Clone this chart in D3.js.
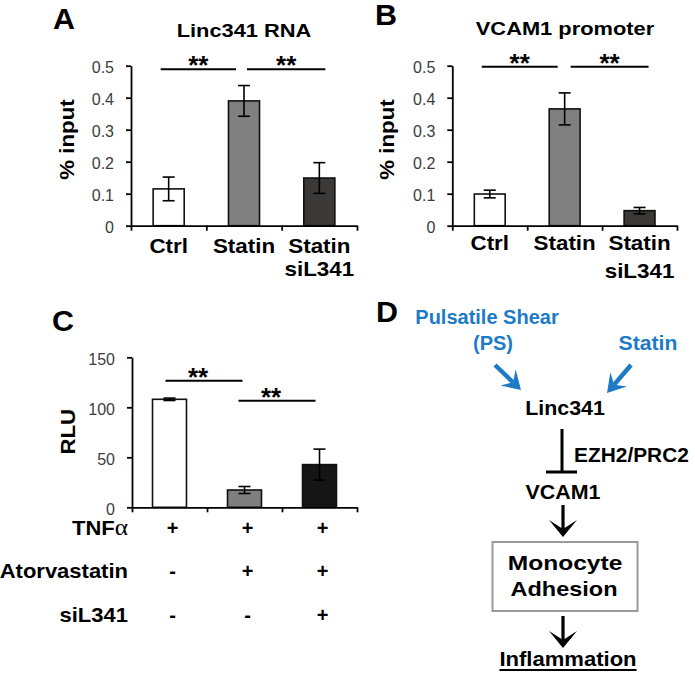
<!DOCTYPE html>
<html><head><meta charset="utf-8">
<script src="https://cdn.jsdelivr.net/npm/d3@7"></script>
<style>body{margin:0;background:#fff} svg{display:block}</style>
</head><body>
<svg id="fig" width="695" height="679"></svg>
<script>
// ---------------- data ----------------
const categoriesAB = [["Ctrl"], ["Statin"], ["Statin", "siL341"]];
const linc341Values = [0.115, 0.39, 0.149];
const linc341Errors = [0.037, 0.048, 0.048];
const vcam1Values = [0.099, 0.365, 0.047];
const vcam1Errors = [0.012, 0.05, 0.01];
const rluValues = [108, 17.3, 42.7];
const rluErrors = [1.2, 3.5, 15.5];
const tickValuesAB = [0, 0.1, 0.2, 0.3, 0.4, 0.5];
const tickLabelsAB = ["0", "0.1", "0.2", "0.3", "0.4", "0.5"];
const tickValuesC = [0, 50, 100, 150];
const tickLabelsC = ["0", "50", "100", "150"];
const treatmentRows = ["TNF", "Atorvastatin", "siL341"];
const treatmentMarks = [["+", "+", "+"], ["-", "+", "+"], ["-", "-", "+"]];
const sigPairsA = [[0, 1, 0.489], [1, 2, 0.489]];
const sigPairsB = [[0, 1, 0.497], [1, 2, 0.497]];
const sigPairsC = [[0, 1, 126.6], [1, 2, 106.6]];
const colorsAB = ["#ffffff", "#808080", "#3b3838"];
const colorsC = ["#ffffff", "#7f7f7f", "#151515"];

// ---------------- helpers ----------------
const svg = d3.select("#fig");
const BOLD = "'Liberation Sans', Arial, sans-serif";

function txt(g, str, x, y, o = {}) {
  const t = g.append("text")
    .attr("transform", `translate(${x},${y})` + (o.rot ? ` rotate(${o.rot})` : "") + ` scale(${o.sx || 1},1)`)
    .attr("text-anchor", o.anchor || "middle")
    .attr("font-family", o.family || BOLD)
    .attr("font-weight", o.weight || "bold")
    .attr("font-size", (o.size || 20) + "px")
    .attr("fill", o.fill || "#000")
    .text(str);
  return t;
}

function barPanel(cfg) {
  const g = svg.append("g");
  const n = cfg.values.length;
  const y = d3.scaleLinear().domain(cfg.domain).range([cfg.yBottom, cfg.yTop]);
  const xPos = d3.scaleLinear().domain([0, n]).range([cfg.xLeft, cfg.xRight]);
  const xb = d3.scaleBand().domain(d3.range(n)).range([cfg.xLeft, cfg.xRight])
    .paddingInner(cfg.pad).paddingOuter(cfg.pad / 2);
  const cx = i => xb(i) + xb.bandwidth() / 2;

  g.selectAll("rect.bar").data(cfg.values).join("rect").attr("class", "bar")
    .attr("x", (d, i) => xb(i)).attr("width", xb.bandwidth())
    .attr("y", d => y(d)).attr("height", d => y(0) - y(d))
    .attr("fill", (d, i) => cfg.colors[i]).attr("stroke", "#111").attr("stroke-width", 1.6);

  // error bars
  const eb = g.selectAll("g.err").data(cfg.values).join("g").attr("class", "err")
    .attr("stroke", "#000").attr("stroke-width", 1.6);
  eb.append("line").attr("x1", (d, i) => cx(i)).attr("x2", (d, i) => cx(i))
    .attr("y1", (d, i) => y(d + cfg.errors[i])).attr("y2", (d, i) => y(d - cfg.errors[i]));
  eb.append("line").attr("x1", (d, i) => cx(i) - 6).attr("x2", (d, i) => cx(i) + 6)
    .attr("y1", (d, i) => y(d + cfg.errors[i])).attr("y2", (d, i) => y(d + cfg.errors[i]));
  eb.append("line").attr("x1", (d, i) => cx(i) - 6).attr("x2", (d, i) => cx(i) + 6)
    .attr("y1", (d, i) => y(d - cfg.errors[i])).attr("y2", (d, i) => y(d - cfg.errors[i]));

  // axes
  const ya = d3.axisLeft(y).tickValues(cfg.ticks).tickFormat((d, i) => cfg.tickLabels[i])
    .tickSize(5).tickSizeOuter(0).tickPadding(12);
  const yg = g.append("g").attr("transform", `translate(${cfg.xLeft},0)`).call(ya);
  yg.selectAll("text").attr("font-family", "'Liberation Sans', Arial, sans-serif")
    .attr("font-size", "16px").attr("fill", "#3c3c3c").attr("dy", "0.45em");
  const xa = d3.axisBottom(xPos).tickValues(d3.range(n + 1)).tickSize(5).tickSizeOuter(0).tickFormat("");
  g.append("g").attr("transform", `translate(0,${cfg.yBottom})`).call(xa);
  g.selectAll(".domain, .tick line").attr("stroke", "#000").attr("stroke-width", 1.8);

  // significance brackets
  cfg.sig.forEach(([a, b, v], k) => {
    const x1 = cx(a) + cfg.sigOff[k][0], x2 = cx(b) + cfg.sigOff[k][1];
    g.append("line").attr("x1", x1).attr("x2", x2).attr("y1", y(v)).attr("y2", y(v))
      .attr("stroke", "#000").attr("stroke-width", 2);
    txt(g, "**", (x1 + x2) / 2 + (cfg.starDx || 0), y(v) + 5, { size: 26 });
  });

  // category labels
  if (cfg.cats) {
    cfg.cats.forEach((lines, i) => {
      lines.forEach((s, j) => txt(g, s, cx(i), cfg.labelY[j], { size: 20, sx: 1.12 }));
    });
  }
  // y label
  txt(g, cfg.ylabel, cfg.ylabelX, cfg.ylabelY, { size: 21, rot: -90, sx: 1.06 });
  // title
  if (cfg.title) txt(g, cfg.title, cfg.titleX, cfg.titleY, { size: 19, sx: 1.15 });
  return { g, cx };
}

// ---------------- panel A ----------------
barPanel({
  values: linc341Values, errors: linc341Errors, colors: colorsAB,
  domain: [0, 0.5], ticks: tickValuesAB, tickLabels: tickLabelsAB,
  xLeft: 131, xRight: 357, yBottom: 225.7, yTop: 65.7, pad: 0.588,
  sig: sigPairsA, sigOff: [[-8, -8], [3, 6]],
  cats: categoriesAB, labelY: [253, 276],
  ylabel: "% input", ylabelX: 74, ylabelY: 139.5,
  title: "Linc341 RNA", titleX: 244, titleY: 37
});
txt(svg, "A", 53, 29, { size: 29, anchor: "start", sx: 1.05 });

// ---------------- panel B ----------------
barPanel({
  values: vcam1Values, errors: vcam1Errors, colors: colorsAB,
  domain: [0, 0.5], ticks: tickValuesAB, tickLabels: tickLabelsAB,
  xLeft: 452.3, xRight: 677, yBottom: 225.7, yTop: 65.7, pad: 0.588,
  sig: sigPairsB, sigOff: [[-8, -7], [6, 9]],
  cats: categoriesAB, labelY: [250, 278],
  ylabel: "% input", ylabelX: 394, ylabelY: 139.5,
  title: "VCAM1 promoter", titleX: 565, titleY: 35
});
txt(svg, "B", 375, 25, { size: 29, anchor: "start", sx: 1.05 });

// ---------------- panel C ----------------
const pc = barPanel({
  values: rluValues, errors: rluErrors, colors: colorsC,
  domain: [0, 150], ticks: tickValuesC, tickLabels: tickLabelsC,
  xLeft: 132, xRight: 357, yBottom: 507.3, yTop: 357.3, pad: 0.547,
  sig: sigPairsC, sigOff: [[-4, -2], [-6, -4]], starDx: -6,
  cats: null,
  ylabel: "RLU", ylabelX: 75, ylabelY: 431.7
});
txt(svg, "C", 52, 331, { size: 29, anchor: "start", sx: 1.05 });
const rowY = [535, 578, 621.5];
treatmentRows.forEach((r, k) => {
  const t = txt(svg, r, 128, rowY[k], { size: 20, anchor: "end", sx: 1.1 });
  if (k === 0) t.append("tspan").attr("font-family", "'Liberation Serif', serif")
    .attr("font-weight", "normal").attr("font-size", "23px").text("α");
  treatmentMarks[k].forEach((m, i) => txt(svg, m, pc.cx(i) + 3, rowY[k], { size: 20 }));
});

// ---------------- panel D ----------------
txt(svg, "D", 376, 322, { size: 29, anchor: "start", sx: 1.05 });
const blue = "#1d7bc6";
const gd = svg.append("g");
txt(gd, "Pulsatile Shear", 487, 324, { size: 20, fill: blue });
txt(gd, "(PS)", 493, 350, { size: 20, fill: blue });
txt(gd, "Statin", 648, 350, { size: 20, fill: blue, sx: 1.06 });
txt(gd, "Linc341", 565, 415, { size: 20, sx: 1.07 });
txt(gd, "EZH2/PRC2", 574, 462, { size: 20, anchor: "start", sx: 1.045 });
txt(gd, "VCAM1", 563, 499, { size: 20, sx: 1.07 });
txt(gd, "Monocyte", 565, 570, { size: 21, sx: 1.17 });
txt(gd, "Adhesion", 564, 596, { size: 21, sx: 1.12 });
const infl = txt(gd, "Inflammation", 568, 666, { size: 21, sx: 1.05 });
const inflW = infl.node().getComputedTextLength() * 1.05;
gd.append("line").attr("x1", 568 - inflW / 2).attr("x2", 568 + inflW / 2)
  .attr("y1", 670).attr("y2", 670).attr("stroke", "#000").attr("stroke-width", 2);

function arrow(g, x1, y1, x2, y2, color, w, hl, hw, notch) {
  const dx = x2 - x1, dy = y2 - y1, L = Math.hypot(dx, dy);
  const ux = dx / L, uy = dy / L, px = -uy, py = ux;
  const bx = x2 - ux * hl, by = y2 - uy * hl;
  const nx = x2 - ux * (hl - notch), ny = y2 - uy * (hl - notch);
  g.append("line").attr("x1", x1).attr("y1", y1).attr("x2", nx).attr("y2", ny)
    .attr("stroke", color).attr("stroke-width", w);
  g.append("path").attr("d", `M${x2},${y2}L${bx + px * hw},${by + py * hw}L${nx},${ny}L${bx - px * hw},${by - py * hw}Z`)
    .attr("fill", color);
}
arrow(gd, 495, 365, 521, 390, blue, 4.5, 18, 11, 7);
arrow(gd, 631, 365, 607, 393, blue, 4.5, 18, 11, 7);
arrow(gd, 563, 505, 563, 537, "#000", 3.2, 17, 14, 9);
arrow(gd, 563, 616, 563, 648, "#000", 3.2, 17, 14, 9);
// inhibition
gd.append("line").attr("x1", 562).attr("x2", 562).attr("y1", 429).attr("y2", 472)
  .attr("stroke", "#000").attr("stroke-width", 3);
gd.append("line").attr("x1", 546).attr("x2", 577).attr("y1", 472).attr("y2", 472)
  .attr("stroke", "#000").attr("stroke-width", 3);
// box
gd.append("rect").attr("x", 492.5).attr("y", 542).attr("width", 145).attr("height", 69)
  .attr("fill", "none").attr("stroke", "#9a9a9a").attr("stroke-width", 2);
</script>
</body></html>
